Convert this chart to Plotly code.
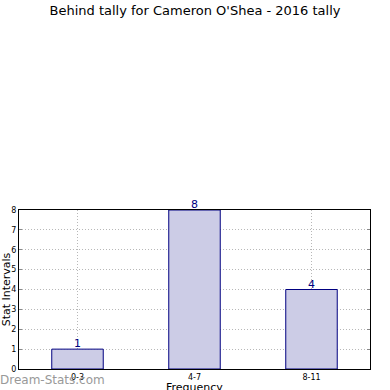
import plotly.graph_objects as go

categories = ["0-3", "4-7", "8-11"]
values = [1, 8, 4]
y_ticks = [0, 1, 2, 3, 4, 5, 6, 7, 8]

xs = list(range(len(categories)))
fig = go.Figure()
fig.add_trace(go.Bar(
    x=xs, y=values,
    width=0.44,
    marker=dict(color="#ccccE6", line=dict(color="#000080", width=1)),
    hoverinfo="skip",
))
for x, v in zip(xs, values):
    fig.add_annotation(x=x, y=v, text=str(v), showarrow=False, yanchor="bottom",
                       yshift=-3, font=dict(color="#000080", size=11, family="DejaVu Sans"))
fig.update_layout(
    width=390, height=390,
    margin=dict(l=19, r=20, t=210, b=21, autoexpand=False),
    paper_bgcolor="white", plot_bgcolor="white",
    showlegend=False,
    font=dict(family="DejaVu Sans", color="black"),
    title=dict(text="Behind tally for Cameron O'Shea - 2016 tally",
               x=0.5, xanchor="center", xref="container", yref="container",
               y=1 - 10.5 / 390, yanchor="middle",
               font=dict(size=13, color="black")),
    xaxis=dict(range=[-0.5, 2.5], tickmode="array", automargin=False,
               tickvals=xs, ticktext=categories,
               tickfont=dict(size=8), showline=True, linecolor="black", mirror=True,
               showgrid=True, gridcolor="#b8b8b8", griddash="1px,2px", gridwidth=1,
               ticks="", zeroline=False),
    yaxis=dict(range=[0, 8], tickmode="array", tickvals=y_ticks, automargin=False,
               tickfont=dict(size=8), showline=True, linecolor="black", mirror="ticks",
               showgrid=True, gridcolor="#b8b8b8", griddash="1px,2px", gridwidth=1,
               ticks="inside", ticklen=3, tickcolor="#888", zeroline=False,
               title=dict(text="Stat Intervals", font=dict(size=11), standoff=0)),
)
fig.add_annotation(text="Frequency", xref="paper", yref="paper", x=0.5, y=0,
                   xanchor="center", yanchor="top", yshift=-10, showarrow=False,
                   font=dict(size=11, color="black", family="DejaVu Sans"))
fig.add_annotation(text="Dream-Stats.com", xref="paper", yref="paper",
                   x=-19 / 351, y=-11 / 159, xanchor="left", yanchor="middle", showarrow=False,
                   xshift=-2,
                   font=dict(size=12, color="#999999", family="DejaVu Sans"))
fig.write_html("out.html", config={"displayModeBar": False},
               post_script="document.body.style.margin='0';")
